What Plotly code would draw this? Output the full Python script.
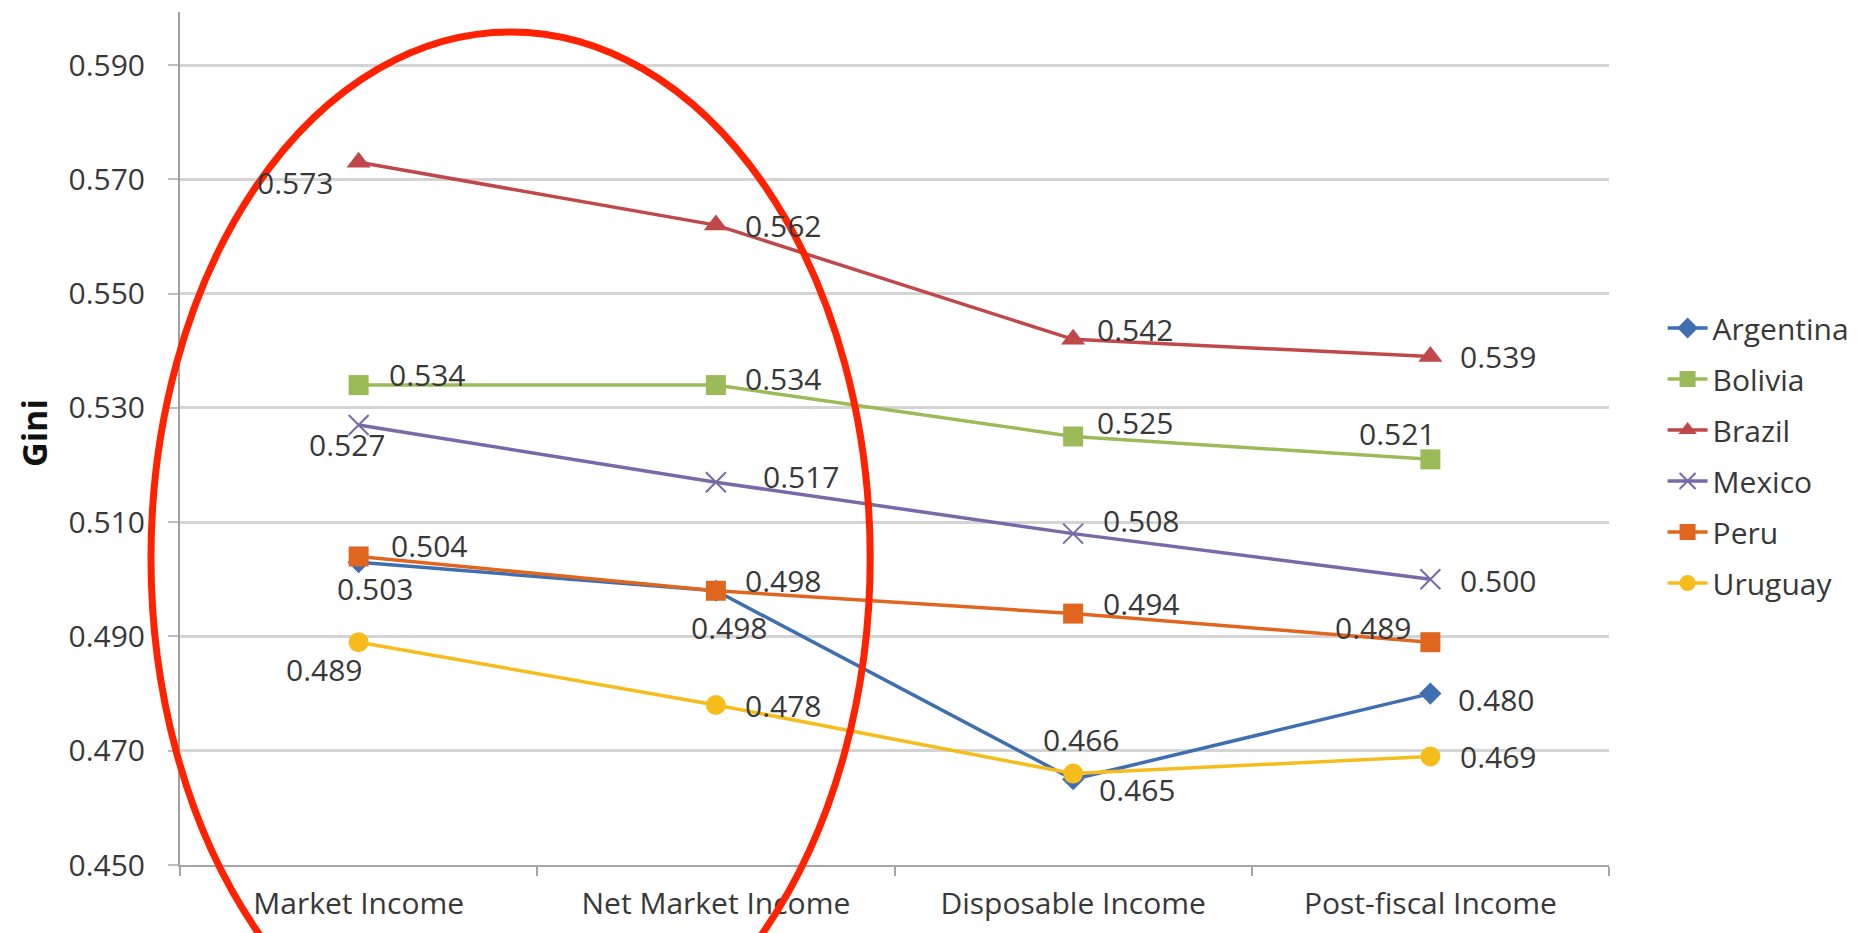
import plotly.graph_objects as go

# Income concepts along the x axis
categories = ["Market Income", "Net Market Income", "Disposable Income", "Post-fiscal Income"]

# Gini coefficients by country
argentina = [0.503, 0.498, 0.465, 0.480]
bolivia = [0.534, 0.534, 0.525, 0.521]
brazil = [0.573, 0.562, 0.542, 0.539]
mexico = [0.527, 0.517, 0.508, 0.500]
peru = [0.504, 0.498, 0.494, 0.489]
uruguay = [0.489, 0.478, 0.466, 0.469]

# Y axis tick values
y_ticks = [0.450, 0.470, 0.490, 0.510, 0.530, 0.550, 0.570, 0.590]

series = [
    ("Argentina", argentina),
    ("Bolivia", bolivia),
    ("Brazil", brazil),
    ("Mexico", mexico),
    ("Peru", peru),
    ("Uruguay", uruguay),
]

# Per-series styling: colour, marker symbol, marker size
styles = {
    "Argentina": ("#3F6FB0", "diamond", 17),
    "Bolivia": ("#9BBB59", "square", 20),
    "Brazil": ("#C0474A", "triangle-up", 21),
    "Mexico": ("#7A69A8", "x-thin", 20),
    "Peru": ("#E0661F", "square", 20),
    "Uruguay": ("#F5BC1C", "circle", 20),
}

# Pixel offsets (xshift, yshift) of each value label from its point
label_shifts = {
    "Argentina": [(17, -26), (14, -37), (64, -10), (66, -6)],
    "Bolivia": [(69, 11), (68, 7), (62, 14), (-33, 26)],
    "Brazil": [(-63, -20), (68, 0), (62, 10), (68, 0)],
    "Mexico": [(-11, -19), (86, 6), (68, 13), (68, -1)],
    "Peru": [(71, 11), (68, 10), (68, 10), (-57, 15)],
    "Uruguay": [(-34, -27), (68, 0), (8, 34), (68, 0)],
}

FONT = "Open Sans"
TEXT_COLOR = "#383838"

fig = go.Figure()
annotations = []
for name, values in series:
    color, symbol, size = styles[name]
    marker = dict(symbol=symbol, size=size, color=color)
    if symbol == "x-thin":
        marker["line"] = dict(color=color, width=2)
    fig.add_trace(go.Scatter(
        x=categories, y=values, name=name, legendgroup=name,
        mode="lines+markers",
        line=dict(color=color, width=3.5),
        marker=marker,
    ))
    for i, v in enumerate(values):
        dx, dy = label_shifts[name][i]
        annotations.append(dict(
            x=categories[i], y=v, xref="x", yref="y",
            text=f"{v:.3f}", showarrow=False,
            xanchor="center", yanchor="middle",
            xshift=dx, yshift=dy,
            font=dict(family=FONT, size=30, color=TEXT_COLOR),
        ))

# Vertical axis title
annotations.append(dict(
    x=-0.1022, y=0.5065, xref="paper", yref="paper",
    text="<b>Gini</b>", textangle=-90, showarrow=False,
    xanchor="center", yanchor="middle",
    font=dict(family=FONT, size=34, color="#111111"),
))

fig.update_layout(
    width=1862, height=933,
    margin=dict(l=180, r=253, t=12, b=68, autoexpand=False),
    paper_bgcolor="white", plot_bgcolor="white",
    annotations=annotations,
    showlegend=True,
    legend=dict(
        x=1.0375, y=0.660, xanchor="left", yanchor="top",
        font=dict(family=FONT, size=30, color=TEXT_COLOR),
        tracegroupgap=9, itemwidth=40,
        bgcolor="rgba(0,0,0,0)",
    ),
    shapes=[dict(
        type="circle", xref="paper", yref="paper",
        x0=-0.0203, x1=0.483, y0=-0.2567, y1=0.9766,
        line=dict(color="#FF2200", width=7),
        layer="above",
    )],
)

fig.update_xaxes(
    type="category", categoryorder="array", categoryarray=categories,
    range=[-0.5, 3.5],
    showgrid=False, showline=True, linecolor="#a6a6a6", linewidth=2,
    ticks="outside", tickson="boundaries", ticklen=9, tickcolor="#a6a6a6", tickwidth=2,
    ticklabelstandoff=11,
    tickfont=dict(family=FONT, size=30, color=TEXT_COLOR),
    zeroline=False,
)
fig.update_yaxes(
    range=[0.450, 0.5993],
    tickvals=y_ticks, ticktext=[f"{t:.3f}" for t in y_ticks],
    showgrid=True, gridcolor="#d4d4d4", gridwidth=2.5,
    showline=True, linecolor="#a0a0a0", linewidth=2,
    ticks="outside", ticklen=10, tickcolor="#bdbdbd", tickwidth=2,
    ticklabelstandoff=17,
    tickfont=dict(family=FONT, size=30, color=TEXT_COLOR),
    zeroline=False,
)

fig.write_html("out.html")
